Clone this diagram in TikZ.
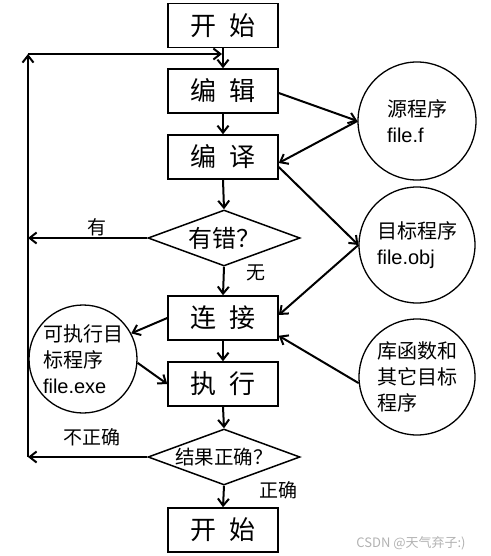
\documentclass[tikz,border=0pt]{standalone}
\usepackage{fontspec}
\setmainfont{Liberation Sans}
\newfontfamily\cjk{Noto Sans CJK SC}
\usetikzlibrary{arrows.meta,shapes.geometric}
\tikzset{
  box/.style={draw, line width=1.5pt, minimum width=110pt, minimum height=44pt, inner sep=0pt, font=\cjk\fontsize{26}{28}\selectfont},
  dia/.style={draw, line width=1.5pt, diamond, shape aspect=2.7, inner sep=0pt, minimum width=152pt, minimum height=56pt},
  circ/.style={draw, line width=1.3pt, circle, inner sep=0pt, align=left, font=\fontsize{20}{26}\selectfont},
  conn/.style={line width=2pt, -{Straight Barb[length=7pt,width=11pt]}},
  plain/.style={line width=2pt},
  lbl/.style={font=\cjk\fontsize{19}{20}\selectfont, inner sep=0pt},
}
\begin{document}
\begin{tikzpicture}[x=1pt,y=-1pt]
\useasboundingbox (0,0) rectangle (490,556);
% boxes
\node[box] (start) at (223,25.5) {开\hspace{14pt}始};
\node[box] (edit) at (223,91) {编\hspace{14pt}辑};
\node[box] (comp) at (223,157) {编\hspace{14pt}译};
\node[dia, font=\cjk\fontsize{24}{26}\selectfont] (d1) at (224,238) {有错？};
\node[box] (link) at (223,318) {连\hspace{14pt}接};
\node[box] (exec) at (223,384) {执\hspace{14pt}行};
\node[dia, font=\cjk\fontsize{19.5}{22}\selectfont] (d2) at (224,457) {结果正确？};
\node[box] (stop) at (223,530) {开\hspace{14pt}始};
% circles
\node[circ, minimum size=118pt] (c1) at (417,121) {{\cjk 源程序}\\file.f};
\node[circ, minimum size=116pt] (c2) at (417,245) {{\cjk 目标程序}\\file.obj};
\node[circ, minimum size=116pt] (c3) at (417,377) {\cjk 库函数和\\\cjk 其它目标\\\cjk 程序};
\node[circ, minimum size=108pt] (c4) at (83,359) {{\cjk 可执行目}\\{\cjk 标程序}\\file.exe};
% loop coordinates
\coordinate (lb) at (28,457);
\coordinate (lt) at (28,54);
\coordinate (lm) at (28,238);
\coordinate (le) at (222,54);
% main flow
\draw[conn] (start.south) -- (edit.north);
\draw[conn] (edit.south) -- (comp.north);
\draw[conn] (comp.south) -- (d1.north);
\draw[conn] (d1.south) -- (link.north);
\draw[conn] (link.south) -- (exec.north);
\draw[conn] (exec.south) -- (d2.north);
\draw[conn] (d2.south) -- (stop.north);
% loops
\draw[conn] (d1.west) -- (lm);
\draw[conn] (d2.west) -- (lb);
\draw[conn] (lb) -- (lt);
\draw[conn] (lt) -- (le);
% files
\draw[conn] ([yshift=-2pt]edit.east) -- (c1.west);
\draw[conn] (c1.west) -- ([yshift=-6pt]comp.east);
\draw[conn] ([yshift=-10pt]comp.east) -- (c2.west);
\draw[conn] (c2.west) -- ([yshift=3pt]link.east);
\draw[conn] (c3.186) -- ([yshift=5pt]link.south east);
\draw[conn] (link.west) -- (c4.28);
\draw[conn] (c4.-4) -- (exec.west);
% labels
\node[lbl] (l1) at (97,227) {有};
\node[lbl] (l2) at (256,273) {无};
\node[lbl] (l3) at (92,437) {不正确};
\node[lbl] (l4) at (278,490) {正确};
\node[font=\cjk\fontsize{13}{14}\selectfont, text=black!30, inner sep=0pt] (wm) at (411,543) {CSDN @天气弃子:)};
\end{tikzpicture}
\end{document}
